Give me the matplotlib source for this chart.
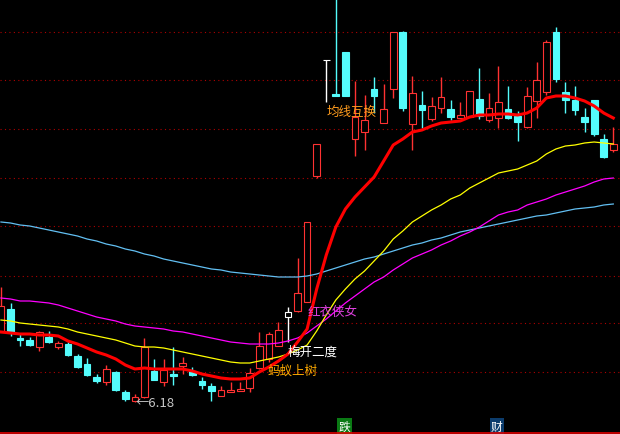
import numpy as np
import matplotlib.pyplot as plt

plt.rcParams['font.family'] = ['Noto Sans CJK SC', 'DejaVu Sans']

# daily candles
opens = [6.88, 7.11, 6.82, 6.80, 6.73, 6.83, 6.73, 6.76, 6.64, 6.56,
         6.43, 6.38, 6.48, 6.28, 6.19, 6.23, 6.49, 6.38, 6.46, 6.54,
         6.49, 6.39, 6.34, 6.24, 6.28, 6.29, 6.32, 6.52, 6.61, 6.74,
         7.03, 7.09, 7.18, 8.44, 9.60, 9.26, 9.68, 8.81, 8.88, 9.31,
         8.97, 9.31, 9.88, 8.96, 9.15, 9.01, 9.12, 9.11, 9.02, 9.03,
         9.21, 9.00, 9.02, 9.11, 9.04, 8.93, 9.19, 9.28, 9.88, 9.28,
         9.20, 9.03, 9.20, 8.81, 8.70]
highs = [7.33, 7.17, 6.86, 6.83, 6.89, 6.89, 6.79, 6.78, 6.66, 6.62,
         6.46, 6.55, 6.49, 6.30, 6.26, 6.82, 6.61, 6.61, 6.73, 6.63,
         6.53, 6.43, 6.37, 6.34, 6.38, 6.38, 6.52, 6.88, 6.88, 6.98,
         7.13, 7.62, 7.98, 8.76, 9.60, 10.56, 9.68, 9.39, 9.25, 9.43,
         9.36, 9.88, 9.89, 9.44, 9.29, 9.23, 9.43, 9.20, 9.18, 9.29,
         9.52, 9.27, 9.54, 9.34, 9.09, 9.33, 9.58, 9.80, 9.93, 9.38,
         9.34, 9.12, 9.20, 8.86, 8.93]
lows = [6.88, 6.84, 6.74, 6.74, 6.69, 6.77, 6.71, 6.64, 6.52, 6.44,
        6.37, 6.35, 6.29, 6.19, 6.18, 6.22, 6.40, 6.34, 6.35, 6.46,
        6.44, 6.31, 6.19, 6.24, 6.28, 6.29, 6.28, 6.51, 6.58, 6.74,
        6.78, 7.08, 7.18, 8.42, 9.18, 9.24, 9.24, 8.64, 8.70, 9.07,
        8.97, 9.22, 9.09, 8.70, 8.92, 8.99, 9.07, 9.00, 9.02, 9.03,
        9.01, 8.98, 8.92, 9.01, 8.79, 8.92, 9.02, 9.25, 9.38, 9.07,
        9.05, 8.88, 8.84, 8.62, 8.68]
closes = [7.14, 6.88, 6.80, 6.75, 6.88, 6.78, 6.77, 6.65, 6.53, 6.45,
          6.39, 6.51, 6.30, 6.21, 6.23, 6.73, 6.40, 6.50, 6.44, 6.57,
          6.45, 6.35, 6.29, 6.30, 6.30, 6.31, 6.47, 6.74, 6.86, 6.90,
          7.08, 7.27, 7.98, 8.76, 9.60, 9.24, 9.24, 9.03, 9.00, 9.24,
          9.11, 9.88, 9.12, 9.27, 9.10, 9.14, 9.23, 9.03, 9.05, 9.29,
          9.04, 9.12, 9.18, 9.02, 8.98, 9.24, 9.40, 9.78, 9.41, 9.20,
          9.10, 8.98, 8.86, 8.63, 8.76]
white_idx = [30, 34]

ma_red = [6.88, 6.87, 6.86, 6.86, 6.85, 6.85, 6.84, 6.79, 6.76, 6.72,
          6.68, 6.65, 6.61, 6.55, 6.51, 6.52, 6.51, 6.51, 6.51, 6.51,
          6.49, 6.46, 6.44, 6.42, 6.41, 6.41, 6.42, 6.48, 6.53, 6.59,
          6.66, 6.78, 6.91, 7.31, 7.65, 7.93, 8.11, 8.23, 8.33, 8.43,
          8.59, 8.75, 8.81, 8.88, 8.90, 8.94, 8.97, 8.98, 8.99, 9.03,
          9.05, 9.05, 9.06, 9.06, 9.05, 9.07, 9.12, 9.22, 9.24, 9.24,
          9.22, 9.19, 9.14, 9.07, 9.02]
ma_yellow = [7.00, 6.99, 6.97, 6.96, 6.95, 6.94, 6.93, 6.91, 6.88, 6.86,
             6.84, 6.82, 6.80, 6.77, 6.74, 6.73, 6.73, 6.72, 6.70, 6.68,
             6.66, 6.64, 6.62, 6.60, 6.58, 6.57, 6.57, 6.59, 6.61, 6.63,
             6.66, 6.70, 6.75, 6.89, 7.05, 7.20, 7.31, 7.41, 7.49, 7.59,
             7.69, 7.81, 7.89, 7.98, 8.04, 8.10, 8.15, 8.21, 8.25, 8.32,
             8.37, 8.42, 8.47, 8.49, 8.51, 8.55, 8.59, 8.66, 8.71, 8.74,
             8.75, 8.77, 8.78, 8.77, 8.76]
ma_magenta = [7.22, 7.21, 7.19, 7.19, 7.18, 7.17, 7.15, 7.12, 7.09, 7.06,
              7.03, 7.01, 6.99, 6.96, 6.94, 6.93, 6.92, 6.91, 6.89, 6.88,
              6.86, 6.84, 6.82, 6.80, 6.78, 6.77, 6.76, 6.76, 6.76, 6.77,
              6.79, 6.82, 6.87, 6.94, 7.01, 7.09, 7.17, 7.24, 7.31, 7.38,
              7.43, 7.50, 7.56, 7.62, 7.66, 7.70, 7.75, 7.79, 7.84, 7.88,
              7.93, 7.99, 8.05, 8.08, 8.10, 8.15, 8.18, 8.21, 8.25, 8.28,
              8.31, 8.34, 8.38, 8.41, 8.42]
ma_blue = [7.98, 7.97, 7.95, 7.94, 7.92, 7.90, 7.88, 7.86, 7.84, 7.81,
           7.79, 7.76, 7.74, 7.71, 7.69, 7.66, 7.64, 7.61, 7.59, 7.57,
           7.55, 7.53, 7.51, 7.50, 7.48, 7.47, 7.46, 7.45, 7.44, 7.43,
           7.43, 7.43, 7.44, 7.46, 7.49, 7.52, 7.55, 7.58, 7.61, 7.63,
           7.66, 7.69, 7.72, 7.75, 7.77, 7.80, 7.82, 7.85, 7.88, 7.90,
           7.92, 7.94, 7.96, 7.98, 8.00, 8.02, 8.04, 8.05, 8.07, 8.09,
           8.11, 8.12, 8.13, 8.15, 8.16]

grid_levels = [9.88, 9.40, 8.91, 8.42, 7.94, 7.44, 6.97, 6.48]
low_label = '6.18'

RED = '#ff3232'
CYAN = '#54fcfc'

fig = plt.figure(figsize=(6.2, 4.35), dpi=100, facecolor='black')
ax = fig.add_axes([0, 0, 1, 1])
ax.set_facecolor('black')

for lv in grid_levels:
    ax.axhline(lv, color='#b00000', lw=0.8, ls=(0, (1, 3)), zorder=1)

o = np.array(opens)
h = np.array(highs)
l = np.array(lows)
c = np.array(closes)
x = np.arange(len(o))

edge = []
face = []
for i in x:
    if i in white_idx:
        edge.append('white'); face.append('black')
    elif c[i] >= o[i]:
        edge.append(RED); face.append('black')
    else:
        edge.append(CYAN); face.append(CYAN)

ax.vlines(x, l, h, colors=edge, lw=1, zorder=2)
bottom = np.minimum(o, c)
height = np.maximum(np.abs(c - o), 0.004)
ax.bar(x, height, bottom=bottom, width=0.7, color=face, edgecolor=edge,
       linewidth=0.8, zorder=3)

ax.plot(x, ma_blue, color='#62bff2', lw=0.9, zorder=4)
ax.plot(x, ma_magenta, color='#ff00ff', lw=0.9, zorder=4)
ax.plot(x, ma_yellow, color='#ffff00', lw=0.9, zorder=4)
ax.plot(x, ma_red, color='#ff0000', lw=2.2, zorder=5)

imin = int(np.argmin(l))
ax.text(imin + 0.1, l[imin], '←' + low_label, color='#c8c8c8', fontsize=9.5,
        ha='left', va='center', zorder=6)

ax.text(34.0, 9.09, '均线互换', color='#ff9c1e', fontsize=9, ha='left', va='center', zorder=6)
ax.text(32.0, 7.09, '红衣侠女', color='#e040e0', fontsize=9, ha='left', va='center', zorder=6)
ax.text(30.0, 6.69, '梅开二度', color='white', fontsize=9, ha='left', va='center', zorder=6)
ax.text(27.9, 6.50, '蚂蚁上树', color='#ffaa00', fontsize=9, ha='left', va='center', zorder=6)

ax.text(35.9, 5.94, '跌', color='white', fontsize=8.5, ha='center', va='center', zorder=6,
        bbox=dict(boxstyle='square,pad=0.1', fc='#0a7a14', ec='none'))
ax.text(51.8, 5.94, '财', color='white', fontsize=8.5, ha='center', va='center', zorder=6,
        bbox=dict(boxstyle='square,pad=0.1', fc='#0c3c6c', ec='none'))

ax.axhline(5.87, color='#e00000', lw=1.2, zorder=6)

ax.set_xlim(-0.1, 64.7)
ax.set_ylim(5.86, 10.21)
ax.axis('off')

fig.savefig('out.png', dpi=100, facecolor='black')
